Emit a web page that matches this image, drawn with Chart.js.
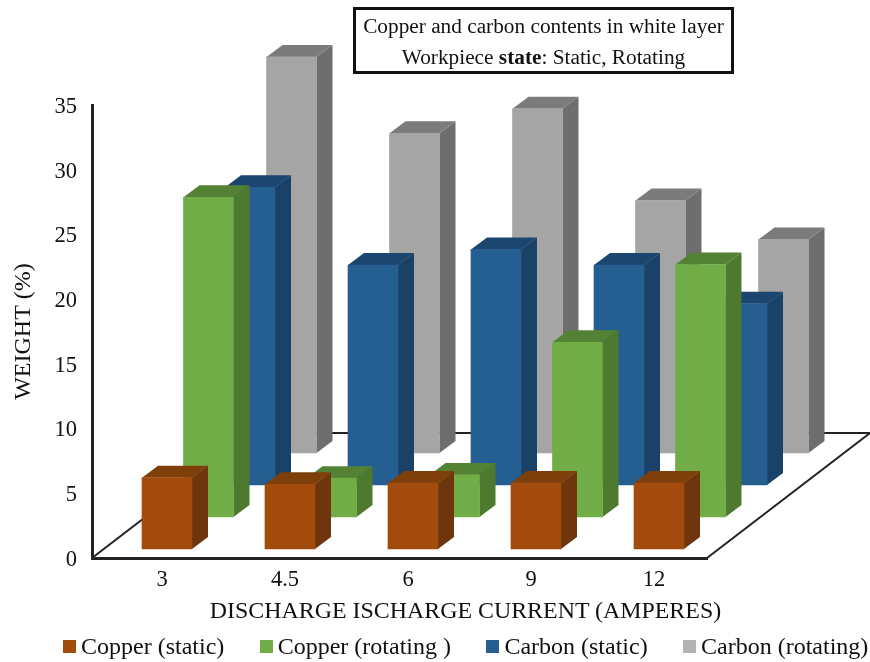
<!DOCTYPE html>
<html>
<head>
<meta charset="utf-8">
<script src="https://cdn.jsdelivr.net/npm/chart.js@4"></script>
<style>
    html, body { margin: 0; padding: 0; background: #fff; }
    body { width: 870px; height: 662px; position: relative; overflow: hidden; font-family: "Liberation Serif", serif; color: #111; }
    #chartBox { position: absolute; left: 0; top: 0; width: 870px; height: 662px; }
    #titleBox { position: absolute; left: 353px; top: 7px; width: 375px; height: 60px; padding-top: 1px; border: 3px solid #111; text-align: center; font-size: 21.3px; line-height: 31px; white-space: nowrap; }
    #xTitle { position: absolute; left: 209px; top: 597px; width: 513px; text-align: center; font-size: 23.9px; line-height: 26px; white-space: nowrap; }
    #legendBox { position: absolute; left: 63px; top: 632px; display: flex; gap: 35.4px; font-size: 24px; line-height: 28px; white-space: nowrap; }
    .legendItem { display: flex; align-items: center; gap: 5px; }
    .legendItem i { display: block; width: 13px; height: 13px; }
</style>
</head>
<body>
<div id="chartBox"><canvas id="chart" width="870" height="662"></canvas></div>
<div id="titleBox">Copper and carbon contents in white layer<br>Workpiece <b>state</b>: Static, Rotating</div>
<div id="xTitle">DISCHARGE ISCHARGE CURRENT (AMPERES)</div>
<div id="legendBox"></div>
<script>
    const categories = ["3", "4.5", "6", "9", "12"];
    const seriesNames = ["Copper (static)", "Copper (rotating )", "Carbon (static)", "Carbon (rotating)"];

    const copperStatic = [5.5, 5.0, 5.1, 5.1, 5.1];
    const copperRotating = [24.7, 3.0, 3.25, 13.5, 19.5];
    const carbonStatic = [23, 17, 18.2, 17, 14];
    const carbonRotating = [30.6, 24.7, 26.6, 19.5, 16.5];

    const frontColors = ["#a34b0c", "#70ad47", "#255e91", "#a5a5a5"];
    const sideColors = ["#6f350c", "#4e7a2f", "#1a4268", "#6e6e6e"];
    const topColors = ["#7f3f0b", "#548235", "#1c4670", "#7b7b7b"];
    const legendColors = ["#a34b0c", "#70ad47", "#255e91", "#b3b3b3"];

    // fake 3D: every series sits one row further back on the floor
    const rowX = 41.5, rowY = -32;
    const startX = 13.5, startY = -9;
    const depthX = 16, depthY = -12;

    const fontName = "'Liberation Serif', serif";

    const seriesValues = [copperStatic, copperRotating, carbonStatic, carbonRotating];

    const depthPlugin = {
        id: 'depth',
        beforeDatasetsDraw(chart) {
            const ctx = chart.ctx;
            const x = chart.scales.x, y = chart.scales.y;
            const y0 = y.getPixelForValue(0);
            const backX = rowX * 4 - 3, backY = -125;

            // floor outline
            ctx.save();
            ctx.strokeStyle = '#222';
            ctx.lineWidth = 2;
            ctx.beginPath();
            ctx.moveTo(x.left, y0);
            ctx.lineTo(x.left + backX, y0 + backY);
            ctx.lineTo(x.right + backX, y0 + backY);
            ctx.lineTo(x.right, y0);
            ctx.stroke();
            ctx.restore();
        },
        beforeDatasetDraw(chart, args) {
            const ctx = chart.ctx;
            const i = args.index;
            ctx.save();
            ctx.translate(startX + rowX * i, startY + rowY * i);

            args.meta.data.forEach(function(bar) {
                const left = bar.x - bar.width / 2, right = bar.x + bar.width / 2;
                const top = bar.y, base = bar.base;

                ctx.fillStyle = sideColors[i];
                ctx.beginPath();
                ctx.moveTo(right, top);
                ctx.lineTo(right + depthX, top + depthY);
                ctx.lineTo(right + depthX, base + depthY);
                ctx.lineTo(right, base);
                ctx.closePath();
                ctx.fill();

                ctx.fillStyle = topColors[i];
                ctx.beginPath();
                ctx.moveTo(left, top);
                ctx.lineTo(left + depthX, top + depthY);
                ctx.lineTo(right + depthX, top + depthY);
                ctx.lineTo(right, top);
                ctx.closePath();
                ctx.fill();
            });
        },
        afterDatasetDraw(chart) {
            chart.ctx.restore();
        }
    };

    const datasets = seriesNames.map(function(name, i) {
        return {
            label: name,
            data: seriesValues[i],
            backgroundColor: frontColors[i],
            borderWidth: 0,
            barThickness: 50,
            clip: false
        };
    });

    new Chart(document.getElementById('chart'), {
        type: 'bar',
        data: { labels: categories, datasets: datasets },
        plugins: [depthPlugin],
        options: {
            responsive: false,
            animation: false,
            grouped: false,
            layout: { padding: { left: 0, right: 163, top: 105, bottom: 0 } },
            plugins: {
                legend: { display: false },
                tooltip: { enabled: false }
            },
            scales: {
                x: {
                    afterFit(scale) { scale.height = 104; },
                    grid: { display: false },
                    border: { display: true, color: '#222', width: 3 },
                    ticks: { color: '#111', padding: 1, labelOffset: 8.5, maxRotation: 0, font: { family: fontName, size: 22.5 } }
                },
                y: {
                    min: 0,
                    max: 35,
                    afterFit(scale) { scale.width = 92; },
                    grid: { display: false },
                    border: { display: true, color: '#222', width: 3 },
                    ticks: { color: '#111', stepSize: 5, padding: 7, labelOffset: 2, font: { family: fontName, size: 22.5 } },
                    title: { display: true, text: 'WEIGHT (%)', color: '#111', padding: { top: 9, bottom: 0 }, font: { family: fontName, size: 24 } }
                }
            }
        }
    });

    // legend row under the chart
    seriesNames.forEach(function(name, i) {
        const item = document.createElement('div');
        item.className = 'legendItem';
        const box = document.createElement('i');
        box.style.background = legendColors[i];
        const label = document.createElement('span');
        label.textContent = name;
        item.appendChild(box);
        item.appendChild(label);
        document.getElementById('legendBox').appendChild(item);
    });
</script>
</body>
</html>
